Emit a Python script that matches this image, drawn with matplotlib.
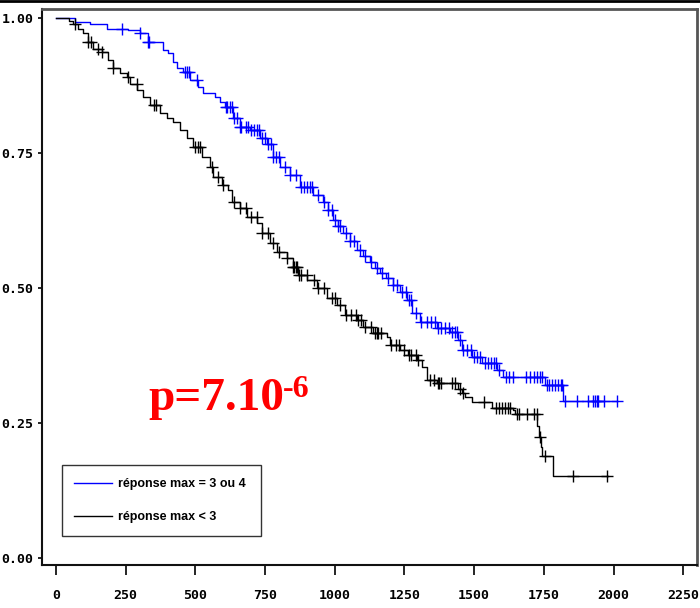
import numpy as np
import matplotlib.pyplot as plt
from matplotlib.lines import Line2D

# Kaplan-Meier steps (days, survival)
t_hi = [0, 68, 122, 182, 258, 301, 330, 384, 402, 420, 434, 456, 481, 510, 528, 570,
        590, 606, 635, 660, 696, 732, 757, 779, 804, 840, 875, 922, 958, 975, 994, 1010,
        1030, 1055, 1080, 1100, 1127, 1145, 1163, 1185, 1210, 1235, 1259, 1277, 1306,
        1367, 1414, 1442, 1457, 1493, 1529, 1582, 1604, 1754, 1819, 2013]
s_hi = [1.0, 0.994, 0.989, 0.981, 0.978, 0.973, 0.956, 0.941, 0.935, 0.919, 0.907, 0.900,
        0.885, 0.873, 0.861, 0.854, 0.845, 0.836, 0.815, 0.799, 0.793, 0.778, 0.768, 0.743,
        0.724, 0.709, 0.687, 0.672, 0.660, 0.645, 0.626, 0.615, 0.602, 0.588, 0.570, 0.560,
        0.548, 0.538, 0.528, 0.518, 0.506, 0.492, 0.478, 0.454, 0.437, 0.426, 0.419, 0.404,
        0.385, 0.372, 0.361, 0.348, 0.335, 0.320, 0.291, 0.291]
cens_hi = [236, 301, 330, 333, 463, 470, 478, 505, 610, 615, 625, 630, 640, 650, 660, 665,
           680, 690, 700, 710, 720, 730, 740, 750, 760, 770, 780, 790, 800, 820, 840, 860,
           880, 890, 900, 910, 920, 940, 960, 975, 990, 1000, 1010, 1020, 1040, 1055, 1070,
           1090, 1110, 1130, 1150, 1170, 1190, 1210, 1225, 1240, 1255, 1265, 1275, 1290,
           1310, 1330, 1345, 1360, 1370, 1380, 1395, 1410, 1420, 1430, 1440, 1450, 1460,
           1475, 1490, 1500, 1510, 1520, 1540, 1550, 1560, 1570, 1580, 1590, 1615, 1625,
           1640, 1685, 1700, 1715, 1725, 1735, 1745, 1760, 1770, 1780, 1790, 1800, 1810,
           1815, 1825, 1870, 1910, 1925, 1935, 1940, 1945, 1965, 2013]

t_lo = [0, 47, 61, 79, 97, 115, 133, 165, 187, 205, 230, 255, 266, 291, 312, 337, 373,
        398, 420, 445, 470, 492, 524, 553, 563, 596, 617, 631, 660, 685, 721, 739, 768,
        793, 829, 850, 868, 901, 937, 972, 1008, 1037, 1080, 1102, 1137, 1187, 1198, 1234,
        1263, 1295, 1313, 1331, 1367, 1443, 1457, 1467, 1493, 1564, 1640, 1647, 1726, 1733,
        1740, 1744, 1783, 1981]
s_lo = [1.0, 0.995, 0.990, 0.981, 0.972, 0.956, 0.944, 0.938, 0.922, 0.907, 0.898, 0.891,
        0.879, 0.867, 0.854, 0.839, 0.824, 0.815, 0.807, 0.793, 0.778, 0.761, 0.743, 0.724,
        0.706, 0.691, 0.681, 0.659, 0.648, 0.631, 0.620, 0.602, 0.583, 0.567, 0.556, 0.539,
        0.524, 0.515, 0.500, 0.481, 0.469, 0.450, 0.441, 0.428, 0.416, 0.410, 0.394, 0.385,
        0.376, 0.367, 0.354, 0.330, 0.324, 0.314, 0.305, 0.298, 0.289, 0.278, 0.274, 0.267,
        0.244, 0.224, 0.206, 0.189, 0.152, 0.152]
cens_lo = [68, 115, 125, 150, 165, 205, 260, 290, 350, 360, 500, 510, 515, 560, 580, 600,
           640, 660, 680, 700, 720, 740, 760, 780, 800, 830, 850, 855, 860, 865, 870, 880,
           900, 925, 940, 960, 990, 1000, 1020, 1040, 1060, 1075, 1085, 1095, 1110, 1130,
           1145, 1150, 1155, 1165, 1200, 1220, 1230, 1250, 1265, 1275, 1290, 1300, 1340,
           1355, 1370, 1375, 1380, 1420, 1430, 1450, 1460, 1535, 1580, 1590, 1600, 1610,
           1620, 1630, 1655, 1660, 1690, 1715, 1725, 1735, 1755, 1855, 1976]

labels = ['réponse max = 3 ou 4', 'réponse max < 3']
colors = ['#0000ff', '#000000']
xticks = [0, 250, 500, 750, 1000, 1250, 1500, 1750, 2000, 2250]
yticks = [0.0, 0.25, 0.5, 0.75, 1.0]

fig = plt.figure(figsize=(7, 6.08), dpi=100)
fig.set_facecolor('white')
ax = fig.add_axes([0.06, 0.0707, 0.936, 0.9143])


def on_curve(t, s, c):
    i = np.searchsorted(t, c, side='right') - 1
    return np.array(s)[i]


for t, s, c, col in [(t_hi, s_hi, cens_hi, colors[0]), (t_lo, s_lo, cens_lo, colors[1])]:
    ax.plot(t, s, drawstyle='steps-post', color=col, lw=1)
    ax.plot(c, on_curve(t, s, c), ls='none', marker='+', ms=8, mew=1, color=col)

ax.set_xlim(-50, 2300)
ax.set_ylim(-0.013, 1.017)
ax.set_xticks(xticks)
ax.set_yticks(yticks)
ax.set_xticklabels([str(v) for v in xticks])
ax.set_yticklabels(['%.2f' % v for v in yticks])
for lab in ax.get_xticklabels() + ax.get_yticklabels():
    lab.set_family('DejaVu Sans Mono')
    lab.set_weight('bold')
    lab.set_size(9.5)
ax.tick_params(axis='x', direction='out', length=7, width=1.2, pad=10)
ax.tick_params(axis='y', direction='out', length=3, width=1.2, pad=3)
for sp in ['left', 'bottom']:
    ax.spines[sp].set_linewidth(1.5)
    ax.spines[sp].set_color('#111111')
for sp in ['top', 'right']:
    ax.spines[sp].set_linewidth(2)
    ax.spines[sp].set_color('#555555')

handles = [Line2D([], [], color=c, lw=1) for c in colors]
leg = ax.legend(handles, labels, loc='lower left', bbox_to_anchor=(0.03, 0.0527, 0.304, 0.132),
                mode='expand', borderaxespad=0, fancybox=False, edgecolor='black',
                handlelength=3.0, handletextpad=0.5, labelspacing=1.7, borderpad=1.0,
                prop={'family': 'Liberation Sans', 'weight': 'bold', 'size': 9})
leg.get_frame().set_linewidth(1)

ax.text(330, 0.274, 'p=7.10', color='#ff0000', fontsize=34, fontweight='bold',
        family='Liberation Serif', ha='left', va='baseline')
ax.text(815, 0.298, '-6', color='#ff0000', fontsize=23, fontweight='bold',
        family='Liberation Serif', ha='left', va='baseline')

fig.add_artist(Line2D([0, 1], [0.998, 0.998], color='black', lw=2, transform=fig.transFigure))

fig.savefig('out.png', dpi=100)
